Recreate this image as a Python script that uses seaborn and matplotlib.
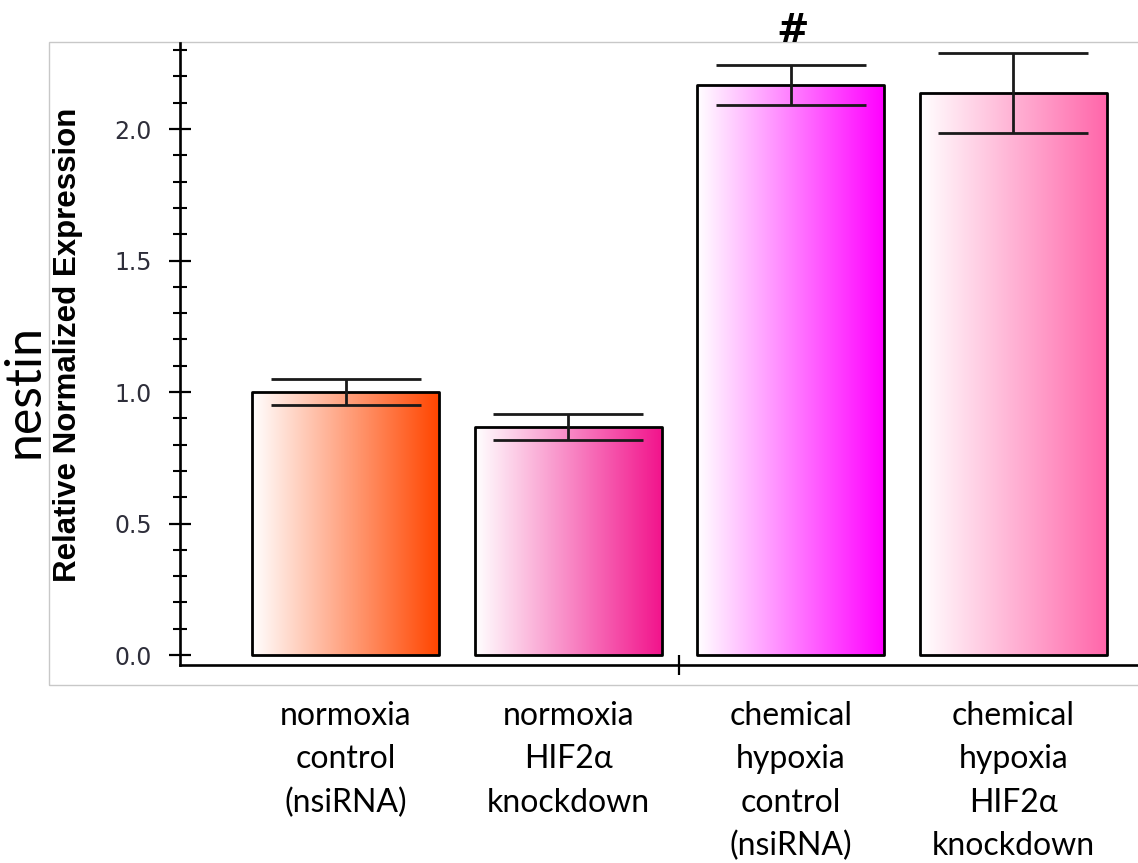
import numpy as np
import pandas as pd
import matplotlib
matplotlib.use("Agg")
import matplotlib.pyplot as plt
import seaborn as sns
from matplotlib.colors import LinearSegmentedColormap
from matplotlib.patches import Rectangle
from matplotlib.ticker import MultipleLocator, FixedLocator

# ---- data ----
categories = ["normoxia\ncontrol\n(nsiRNA)",
              "normoxia\nHIF2\u03b1\nknockdown",
              "chemical\nhypoxia\ncontrol\n(nsiRNA)",
              "chemical\nhypoxia\nHIF2\u03b1\nknockdown"]
values = [1.00, 0.867, 2.167, 2.137]
errors = [0.05, 0.05, 0.075, 0.152]
bar_colors = ["#FF4500", "#F2148C", "#FF00FF", "#FF66AA"]
y_major_ticks = [0.0, 0.5, 1.0, 1.5, 2.0]
y_tick_labels = ["0.0", "0.5", "1.0", "1.5", "2.0"]
y_label = "Relative Normalized Expression"
gene_label = "nestin"
marker_text = "#"

sns.set_theme(style="white")
plt.rcParams["font.family"] = ["Lato", "DejaVu Sans"]

W, H = 1138, 863
fig = plt.figure(figsize=(W / 100, H / 100), dpi=100)
ax = fig.add_axes([180 / W, 1 - 665 / H, (W - 180) / W, (665 - 43) / H])
ax.set_facecolor("none")

df = pd.DataFrame({"condition": categories, "value": values})
sns.barplot(data=df, x="condition", y="value", hue="condition",
            palette=bar_colors, legend=False, width=0.84, saturation=1,
            edgecolor="black", linewidth=2.0, ax=ax, errorbar=None)

# gradient fills (white -> colour, left to right) clipped to each bar
grad = np.linspace(0, 1, 256).reshape(1, -1)
for patch, col in zip(ax.patches, bar_colors):
    x0, y0 = patch.get_x(), patch.get_y()
    w, h = patch.get_width(), patch.get_height()
    cmap = LinearSegmentedColormap.from_list("g", ["white", col])
    im = ax.imshow(grad, extent=[x0, x0 + w, y0, y0 + h], cmap=cmap,
                   aspect="auto", interpolation="bilinear",
                   zorder=patch.get_zorder() - 0.1)
    im.set_clip_path(patch)
    patch.set_facecolor("none")
    patch.set_joinstyle("round")

xpos = np.arange(len(categories))
ax.errorbar(xpos, values, yerr=errors, fmt="none", ecolor="#1a1a1a",
            elinewidth=2.0, capsize=54, capthick=2.0, zorder=6)

ax.text(2.01, 2.373, marker_text, ha="center", va="center", fontsize=28,
        fontweight="bold", color="black", clip_on=False, family="DejaVu Sans")

# axes limits
ax.set_xlim(-0.744, 3.561)
ax.set_ylim(-0.038, 2.327)

# spines
for s in ["top", "right"]:
    ax.spines[s].set_visible(False)
for s in ["left", "bottom"]:
    ax.spines[s].set_color("black")
    ax.spines[s].set_linewidth(1.9)

# y ticks
ax.yaxis.set_major_locator(FixedLocator(y_major_ticks))
ax.set_yticklabels(y_tick_labels)
ax.yaxis.set_minor_locator(MultipleLocator(0.1))
ax.tick_params(axis="y", which="major", direction="inout", length=16.5,
               width=1.6, color="black", left=True, pad=12,
               labelsize=17, labelcolor="#2e2e3a")
ax.tick_params(axis="y", which="minor", direction="inout", length=9.5,
               width=1.5, color="black", left=True)
for t in ax.get_yticklabels():
    t.set_family("DejaVu Sans")

# x ticks: category labels + divider tick
ax.set_xticks(xpos)
ax.set_xticklabels(categories)
ax.xaxis.set_minor_locator(FixedLocator([1.5]))
ax.tick_params(axis="x", which="major", length=0, pad=26, labelsize=23,
               labelcolor="black")
ax.tick_params(axis="x", which="minor", direction="inout", length=15,
               width=1.6, color="black", bottom=True)
for t in ax.get_xticklabels():
    t.set_linespacing(1.55)
ax.set_xlabel("")

ax.set_ylabel(y_label, fontsize=22.5, fontweight="bold", color="black",
              family="Liberation Sans", va="center")
ax.yaxis.set_label_coords((68 - 180) / (W - 180), (665 - 345) / (665 - 43))

fig.text(24 / W, 1 - 391 / H, gene_label, rotation=90, ha="center",
         va="center", fontsize=36, color="black")

# light grey frame around the plotting panel
fig.add_artist(Rectangle((49 / W, 1 - 685 / H), 1.2, (685 - 42) / H,
                         transform=fig.transFigure, fill=False,
                         edgecolor="#c8c8c8", linewidth=1.0, zorder=-1))

fig.savefig("out.png", dpi=100)
